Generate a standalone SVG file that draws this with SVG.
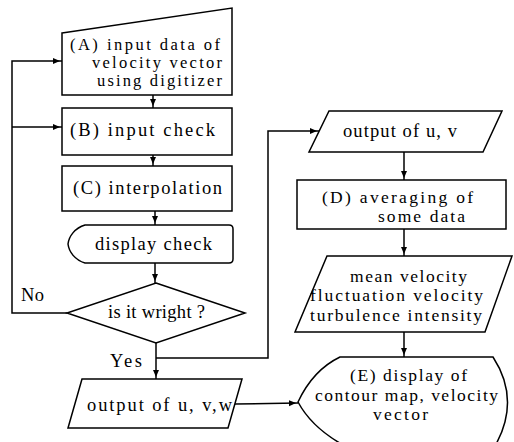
<svg xmlns="http://www.w3.org/2000/svg" width="514" height="442" viewBox="0 0 514 442">
<defs>
<style>
.s{fill:#fff;stroke:#000;stroke-width:1.5}
.c{fill:none;stroke:#000;stroke-width:1.5}
text{font-family:"Liberation Serif","Times New Roman",serif;font-size:18.5px;fill:#000}
.m{font-size:17.5px}
.a{font-size:16.5px}
</style>
<marker id="ah" markerUnits="userSpaceOnUse" markerWidth="9" markerHeight="8" refX="9" refY="3" orient="auto">
<path d="M0,0 L7,3 L0,6 z" fill="#000"/>
</marker>
</defs>
<rect width="514" height="442" fill="#fff"/>
<g id="connectors">
<polyline class="c" points="67,313 12,313 12,61 62,61" marker-end="url(#ah)"/>
<line class="c" x1="12" y1="127" x2="62" y2="127" marker-end="url(#ah)"/>
<line class="c" x1="153" y1="95" x2="153" y2="108" marker-end="url(#ah)"/>
<line class="c" x1="153" y1="155" x2="153" y2="166" marker-end="url(#ah)"/>
<line class="c" x1="155" y1="211" x2="155" y2="225" marker-end="url(#ah)"/>
<line class="c" x1="155" y1="263" x2="155" y2="283" marker-end="url(#ah)"/>
<line class="c" x1="156" y1="343" x2="156" y2="379" marker-end="url(#ah)"/>
<polyline class="c" points="156,358 268,358 268,131 319,131" marker-end="url(#ah)"/>
<line class="c" x1="404" y1="152" x2="404" y2="180" marker-end="url(#ah)"/>
<line class="c" x1="404" y1="229" x2="404" y2="256" marker-end="url(#ah)"/>
<line class="c" x1="404" y1="332" x2="404" y2="357" marker-end="url(#ah)"/>
<line class="c" x1="235" y1="404" x2="298" y2="403" marker-end="url(#ah)"/>
</g>
<g id="nodeA">
<polygon class="s" points="62,33 232,8 232,95 62,95"/>
<text class="a" x="70" y="50" textLength="150">(A) input data of</text>
<text class="a" x="92" y="68" textLength="130">velocity vector</text>
<text class="a" x="97" y="86" textLength="125">using digitizer</text>
</g>
<g id="nodeB">
<rect class="s" x="62" y="108" width="170" height="47"/>
<text x="70" y="136" textLength="145">(B) input check</text>
</g>
<g id="nodeC">
<rect class="s" x="62" y="166" width="170" height="45"/>
<text x="73" y="194" textLength="149">(C) interpolation</text>
</g>
<g id="displayCheck">
<path class="s" d="M85,225 L229,225 Q233,225 233,229 L233,259 Q233,263 229,263 L85,263 C75,260 69,252 68,244 C69,236 75,228 85,225 Z"/>
<text x="95" y="250" textLength="117">display check</text>
</g>
<g id="decision">
<polygon class="s" points="156,283 245,313 156,343 67,313"/>
<text x="108" y="318" textLength="97">is it wright ?</text>
<text x="21" y="301" textLength="23">No</text>
<text x="110" y="367" textLength="32">Yes</text>
</g>
<g id="outputUVW">
<polygon class="s" points="82,379 242,379 228,428 68,428"/>
<text x="87" y="411" textLength="145">output of u, v,w</text>
</g>
<g id="outputUV">
<polygon class="s" points="329,111 502,111 483,152 309,152"/>
<text x="343" y="137" textLength="114">output of u, v</text>
</g>
<g id="nodeD">
<rect class="s" x="297" y="180" width="209" height="49"/>
<text class="m" x="322" y="203" textLength="151">(D) averaging of</text>
<text class="m" x="378" y="222" textLength="87">some data</text>
</g>
<g id="meanValues">
<polygon class="s" points="327,256 512,256 485,332 295,332"/>
<text class="m" x="350" y="282" textLength="117">mean velocity</text>
<text class="m" x="310" y="301" textLength="173">fluctuation velocity</text>
<text class="m" x="310" y="321" textLength="172">turbulence intensity</text>
</g>
<g id="nodeE">
<path class="s" d="M340,357 L493,357 Q521,400 495,446 L345,446 Q312,428 298,402 Q313,370 340,357 Z"/>
<text class="m" x="350" y="381" textLength="117">(E) display of</text>
<text class="m" x="315" y="401" textLength="183">contour map, velocity</text>
<text class="m" x="373" y="420" textLength="55">vector</text>
</g>
</svg>
